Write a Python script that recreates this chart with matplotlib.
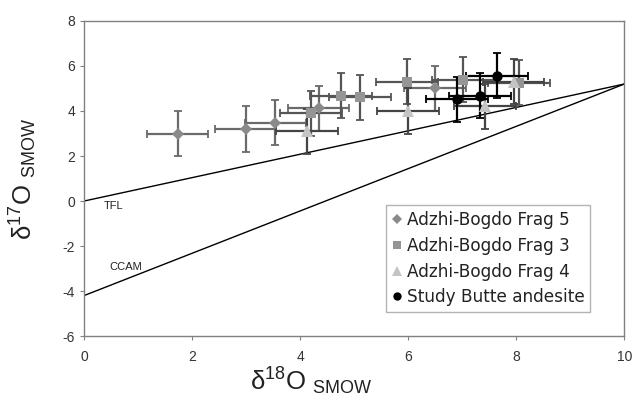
import numpy as np
import matplotlib
matplotlib.use("Agg")
import matplotlib.pyplot as plt
from matplotlib.lines import Line2D

plt.rcParams["axes.unicode_minus"] = False
plt.rcParams["mathtext.fontset"] = "custom"
plt.rcParams["mathtext.rm"] = "Liberation Sans"
plt.rcParams["mathtext.it"] = "Liberation Sans"

# data (delta18O, delta17O)
frag5_x = [1.73, 2.99, 3.54, 4.34, 6.50]
frag5_y = [2.98, 3.20, 3.47, 4.13, 5.00]
frag3_x = [4.20, 4.76, 5.11, 5.98, 7.01, 8.05]
frag3_y = [3.90, 4.67, 4.62, 5.29, 5.38, 5.25]
frag4_x = [4.13, 6.00, 7.42, 7.95]
frag4_y = [3.10, 4.00, 4.22, 5.30]
butte_x = [6.90, 7.33, 7.64]
butte_y = [4.53, 4.67, 5.56]
xerr = 0.57
yerr = 1.0

# reference lines
line_x = [0, 10]
tfl_y = [0, 5.2]
ccam_y = [-4.2, 5.2]

fig = plt.figure(figsize=(6.32, 4.03), dpi=100)
ax = fig.add_axes([0.133, 0.166, 0.855, 0.782])

ax.plot(line_x, tfl_y, color="black", lw=1.0, zorder=1)
ax.plot(line_x, ccam_y, color="black", lw=1.0, zorder=1)
ax.text(0.37, -0.2, "TFL", fontsize=8, va="center", ha="left",
        color="#222222", family="Liberation Sans")
ax.text(0.47, -2.95, "CCAM", fontsize=8, va="center", ha="left",
        color="#222222", family="Liberation Sans")

series = [
    (frag5_x, frag5_y, "D", "#8a8a8a", "#6a6a6a", 6.5, "Adzhi-Bogdo Frag 5"),
    (frag3_x, frag3_y, "s", "#959595", "#555555", 7.5, "Adzhi-Bogdo Frag 3"),
    (frag4_x, frag4_y, "^", "#c4c4c4", "#444444", 8.5, "Adzhi-Bogdo Frag 4"),
    (butte_x, butte_y, "o", "black", "black", 7.5, "Study Butte andesite"),
]

handles = []
for xs, ys, mk, fc, ec, ms, lab in series:
    ax.errorbar(xs, ys, xerr=xerr, yerr=yerr, fmt="none", ecolor=ec,
                elinewidth=1.6, capsize=3, capthick=1.3, zorder=2)
    ax.plot(xs, ys, linestyle="none", marker=mk, color=fc, ms=ms,
            markeredgewidth=0, zorder=3)
    handles.append(Line2D([], [], linestyle="none", marker=mk, color=fc,
                          ms=ms - 1.5, markeredgewidth=0, label=lab))

ax.set_xlim(0, 10)
ax.set_ylim(-6, 8)
ax.set_xticks(np.arange(0, 11, 2))
ax.set_yticks(np.arange(-6, 9, 2))
for s in ax.spines.values():
    s.set_color("#808080")
    s.set_linewidth(1.0)
ax.tick_params(colors="#808080", labelcolor="#333333", labelsize=10,
               length=3, direction="out")
ax.tick_params(axis="x", pad=7)
for lbl in ax.get_xticklabels() + ax.get_yticklabels():
    lbl.set_family("Liberation Sans")

ax.set_xlabel(r"δ$^{18}$O $_{\mathrm{SMOW}}$", fontsize=18.5,
              color="#222222", family="Liberation Sans")
ax.xaxis.set_label_coords(0.42, -0.095)
ax.set_ylabel(r"δ$^{17}$O $_{\mathrm{SMOW}}$", fontsize=18.5,
              color="#222222", family="Liberation Sans")
ax.yaxis.set_label_coords(-0.083, 0.5)

leg = ax.legend(handles=handles, loc="lower right",
                bbox_to_anchor=(0.937, 0.076), fontsize=12.2,
                frameon=True, fancybox=False, handlelength=0.6,
                handletextpad=0.3, borderpad=0.35, labelspacing=0.45,
                borderaxespad=0)
leg.get_frame().set_edgecolor("#a0a0a0")
leg.get_frame().set_linewidth(1.0)
for t in leg.get_texts():
    t.set_color("#222222")

fig.savefig("out.png", dpi=100)
